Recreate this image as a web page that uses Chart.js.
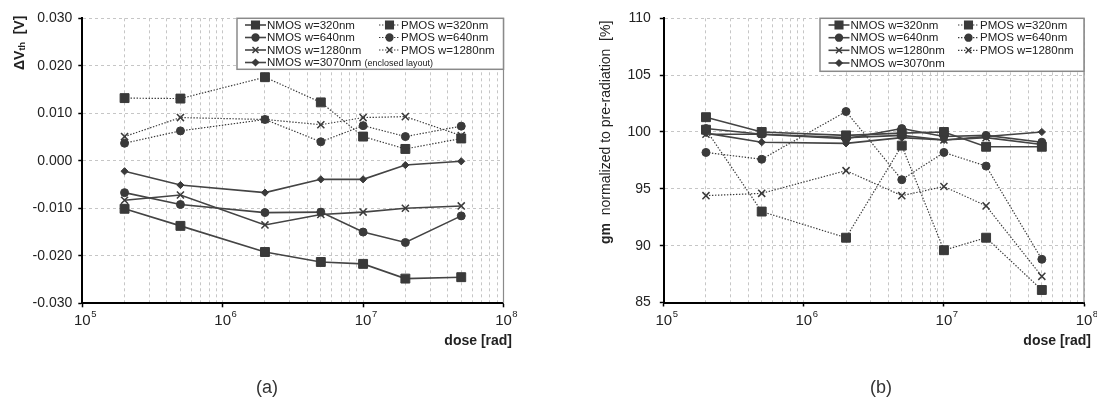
<!DOCTYPE html>
<html>
<head>
<meta charset="utf-8">
<script src="https://cdn.jsdelivr.net/npm/chart.js@4.4.0/dist/chart.umd.min.js"></script>
<style>
  html, body { margin: 0; padding: 0; background: #fff; }
  body { width: 1097px; height: 399px; position: relative; overflow: hidden; font-family: "Liberation Sans", Arial, sans-serif; }
  canvas { position: absolute; top: 0; }
  #chartA { left: 0; }
  #chartB { left: 548px; }
  .caption { position: absolute; top: 377px; font-size: 18px; color: #333; transform: translateX(-50%); }
</style>
</head>
<body>
<canvas id="chartA" width="548" height="399"></canvas>
<canvas id="chartB" width="549" height="399"></canvas>
<div class="caption" style="left:267px">(a)</div>
<div class="caption" style="left:881px">(b)</div>
<script>
const FONT = '"Liberation Sans", Arial, sans-serif';

// ===== DATA =====
const doses = [2e5, 5e5, 2e6, 5e6, 1e7, 2e7, 5e7];
const decadeTicks = [1e5, 1e6, 1e7, 1e8];
const decadeExps = ['5', '6', '7', '8'];
const seriesLabels = ['NMOS w=320nm', 'NMOS w=640nm', 'NMOS w=1280nm', 'NMOS w=3070nm',
                      'PMOS w=320nm', 'PMOS w=640nm', 'PMOS w=1280nm'];

// (a) threshold voltage shift [V]
const vthNmos320  = [-0.0101, -0.0137, -0.0192, -0.0213, -0.0217, -0.0248, -0.0245];
const vthNmos640  = [-0.0067, -0.0092, -0.0109, -0.0108, -0.0150, -0.0172, -0.0116];
const vthNmos1280 = [-0.0083, -0.0072, -0.0135, -0.0113, -0.0108, -0.0100, -0.0095];
const vthNmos3070 = [-0.0022, -0.0051, -0.0067, -0.0039, -0.0039, -0.0009, -0.0001];
const vthPmos320  = [0.0132, 0.0131, 0.0176, 0.0123, 0.0051, 0.0025, 0.0047];
const vthPmos640  = [0.0037, 0.0063, 0.0087, 0.0040, 0.0074, 0.0051, 0.0073];
const vthPmos1280 = [0.0051, 0.0091, 0.0087, 0.0076, 0.0091, 0.0093, 0.0053];

// (b) gm normalized to pre-radiation [%]
const gmNmos320  = [101.3, 100.0, 99.7, 99.9, 100.0, 98.7, 98.7];
const gmNmos640  = [100.3, 99.8, 99.4, 100.3, 99.6, 99.7, 99.1];
const gmNmos1280 = [99.8, 99.8, 99.5, 99.7, 99.3, 99.5, 98.9];
const gmNmos3070 = [99.9, 99.1, 99.0, 99.5, 99.3, 99.6, 100.0];
const gmPmos320  = [100.2, 93.0, 90.7, 98.8, 89.6, 90.7, 86.1];
const gmPmos640  = [98.2, 97.6, 101.8, 95.8, 98.2, 97.0, 88.8];
const gmPmos1280 = [94.4, 94.6, 96.6, 94.4, 95.2, 93.5, 87.3];

// ===== STYLES =====
const markers = [
  { pointStyle: 'rect', radius: 6.3, bw: 1 },
  { pointStyle: 'circle', radius: 4, bw: 1 },
  { pointStyle: 'crossRot', radius: 5, bw: 1.5 },
  { pointStyle: 'rectRot', radius: 3.6, bw: 1 },
];

function makeSet(i, values) {
  const pmos = i >= 4;
  const m = markers[pmos ? i - 4 : i];
  return {
    label: seriesLabels[i],
    data: values.map((v, k) => ({ x: doses[k], y: v })),
    borderColor: pmos ? '#3a3a3a' : '#444',
    borderWidth: pmos ? 1.2 : 1.6,
    borderDash: pmos ? [1.4, 1.6] : [],
    pointStyle: m.pointStyle,
    pointRadius: m.radius,
    pointBorderWidth: m.bw,
    pointBackgroundColor: '#3a3a3a',
    pointBorderColor: '#3a3a3a',
    fill: false,
    tension: 0
  };
}

// ===== DECORATION (legend, axis titles, x labels) =====
const decorPlugin = {
  id: 'decor',
  afterDraw(chart, args, o) {
    const { ctx, chartArea: a } = chart;
    const xs = chart.scales.x;
    ctx.save();
    ctx.strokeStyle = '#8a8a8a';
    ctx.lineWidth = 1.2;
    ctx.beginPath();
    ctx.moveTo(a.right, a.top);
    ctx.lineTo(a.right, a.bottom);
    ctx.stroke();

    // x tick labels 10^n
    ctx.fillStyle = '#222';
    ctx.textBaseline = 'alphabetic';
    decadeTicks.forEach((v, i) => {
      const px = xs.getPixelForValue(v);
      ctx.font = '15px ' + FONT;
      ctx.textAlign = 'center';
      ctx.fillText('10', px, a.bottom + 22);
      const w = ctx.measureText('10').width;
      ctx.font = '9.5px ' + FONT;
      ctx.textAlign = 'left';
      ctx.fillText(decadeExps[i], px + w / 2 + 0.5, a.bottom + 14);
    });

    // x title
    ctx.font = 'bold 14px ' + FONT;
    ctx.textAlign = 'right';
    ctx.fillText('dose [rad]', o.xTitleRight, a.bottom + 42);

    // y title (rotated, mixed runs)
    ctx.save();
    ctx.translate(o.yTitleX, o.yTitleStart);
    ctx.rotate(-Math.PI / 2);
    ctx.textAlign = 'left';
    ctx.textBaseline = 'middle';
    let cx = 0;
    o.yTitle.forEach(p => {
      ctx.font = p.font;
      ctx.fillText(p.text, cx, p.dy || 0);
      cx += ctx.measureText(p.text).width;
    });
    ctx.restore();

    // legend
    const L = o.legend;
    ctx.fillStyle = '#fff';
    ctx.fillRect(L.x, L.y, L.w, L.h);
    ctx.strokeStyle = '#8a8a8a';
    ctx.lineWidth = 1.5;
    ctx.strokeRect(L.x, L.y, L.w, L.h);
    chart.data.datasets.forEach((ds, i) => {
      const col = i >= 4 ? 1 : 0;
      const row = col ? i - 4 : i;
      const sx = L.cols[col];
      const sy = L.rows[row];
      ctx.save();
      ctx.strokeStyle = ds.borderColor;
      ctx.lineWidth = ds.borderWidth;
      ctx.setLineDash(ds.borderDash);
      ctx.beginPath();
      ctx.moveTo(sx, sy);
      ctx.lineTo(sx + 21, sy);
      ctx.stroke();
      ctx.restore();
      ctx.fillStyle = '#3a3a3a';
      ctx.strokeStyle = '#3a3a3a';
      Chart.helpers.drawPoint(ctx, {
        pointStyle: ds.pointStyle, rotation: 0,
        radius: ds.pointRadius * 0.85, borderWidth: ds.pointBorderWidth
      }, sx + 10.5, sy);
      ctx.fillStyle = '#222';
      ctx.font = '11.5px ' + FONT;
      ctx.textAlign = 'left';
      ctx.textBaseline = 'middle';
      ctx.fillText(ds.label, sx + 22, sy + 0.5);
      if (i === 3 && o.note) {
        const w = ctx.measureText(ds.label + ' ').width;
        ctx.font = '9px ' + FONT;
        ctx.fillText(o.note, sx + 22 + w, sy + 1);
      }
    });
    ctx.restore();
  }
};

function xAxis() {
  return {
    type: 'logarithmic',
    min: 1e5, max: 1e8,
    afterBuildTicks: s => {
      const t = [];
      decadeTicks.forEach((d, i) => {
        t.push({ value: d, major: true });
        if (i < decadeTicks.length - 1) {
          for (let m = 2; m < 10; m++) t.push({ value: d * m, major: false });
        }
      });
      s.ticks = t;
    },
    afterFit: s => { s.height = 40; },
    ticks: { display: false },
    grid: {
      color: '#c6c6c6', lineWidth: 1, tickLength: 4, tickWidth: 1.5,
      tickColor: c => (c.tick && c.tick.major) ? '#000' : 'rgba(0,0,0,0)',
      tickBorderDash: []
    },
    border: { color: '#000', width: 2, dash: [3, 3] }
  };
}

function yAxis(min, max, step, width, pad, fmt) {
  return {
    min, max,
    afterFit: s => { s.width = width; },
    ticks: { stepSize: step, padding: pad, color: '#222', font: { size: 14, family: FONT }, callback: fmt },
    grid: { color: '#c6c6c6', lineWidth: 1, tickLength: 4, tickWidth: 1.5, tickColor: '#000', tickBorderDash: [] },
    border: { color: '#000', width: 2, dash: [3, 3] }
  };
}

function baseOptions(padding, y, decor) {
  return {
    responsive: false,
    animation: false,
    layout: { padding },
    scales: { x: xAxis(), y },
    plugins: { legend: { display: false }, tooltip: { enabled: false }, decor }
  };
}

// ===== CHART (a) =====
new Chart(document.getElementById('chartA'), {
  type: 'line',
  data: { datasets: [vthNmos320, vthNmos640, vthNmos1280, vthNmos3070, vthPmos320, vthPmos640, vthPmos1280].map((v, i) => makeSet(i, v)) },
  options: baseOptions(
    { left: 0, top: 18.3, right: 44.5, bottom: 55.7 },
    yAxis(-0.03, 0.03, 0.01, 82.3, 6, v => (Math.abs(v) < 1e-9 ? 0 : v).toFixed(3)),
    {
      xTitleRight: 512,
      yTitleX: 20, yTitleStart: 70,
      yTitle: [
        { text: '\u0394V', font: 'bold 14px ' + FONT },
        { text: 'th', font: 'bold 9px ' + FONT, dy: 3 },
        { text: '  [V]', font: 'bold 14px ' + FONT }
      ],
      note: '(enclosed layout)',
      legend: { x: 237, y: 18.3, w: 266.5, h: 51, cols: [245, 379], rows: [25, 37.5, 50, 62.5] }
    }
  ),
  plugins: [decorPlugin]
});

// ===== CHART (b) =====
new Chart(document.getElementById('chartB'), {
  type: 'line',
  data: { datasets: [gmNmos320, gmNmos640, gmNmos1280, gmNmos3070, gmPmos320, gmPmos640, gmPmos1280].map((v, i) => makeSet(i, v)) },
  options: baseOptions(
    { left: 0, top: 18.3, right: 13, bottom: 56.5 },
    yAxis(85, 110, 5, 115.8, 9, v => String(v)),
    {
      xTitleRight: 543,
      yTitleX: 58, yTitleStart: 244,
      yTitle: [
        { text: 'gm', font: 'bold 14px ' + FONT },
        { text: '  normalized to pre-radiation  [%]', font: '14px ' + FONT }
      ],
      note: '',
      legend: { x: 272, y: 18.3, w: 264, h: 53, cols: [280.5, 410], rows: [25, 37.7, 50.3, 63] }
    }
  ),
  plugins: [decorPlugin]
});
</script>
</body>
</html>
